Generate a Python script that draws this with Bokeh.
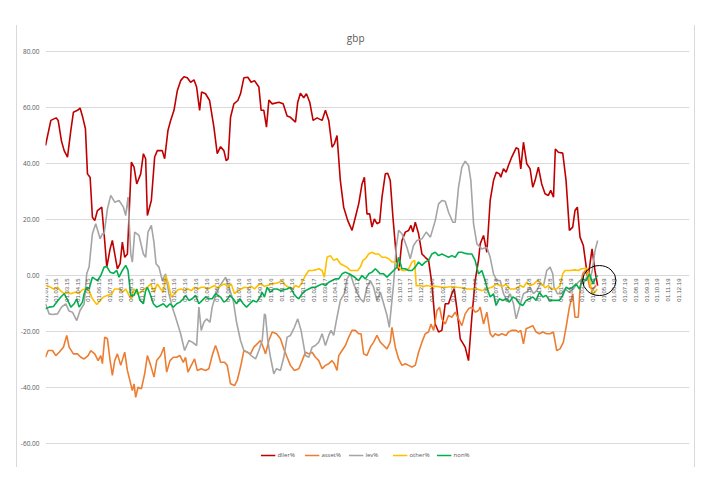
import math
from bokeh.plotting import figure
from bokeh.layouts import column, row
from bokeh.models import Legend, LegendItem, Range1d, NumeralTickFormatter, FixedTicker, Label, Spacer
from bokeh.embed import file_html
from bokeh.resources import INLINE

# x values are months since 01.01.15
tick_months = list(range(60))
tick_labels = ["01.%02d.%02d" % (m % 12 + 1, 15 + m // 12) for m in tick_months]

dller_m = [0, 0.5, 0.99, 1.18, 1.49, 1.74, 2.05, 2.36, 2.6, 2.98, 3.22, 3.47, 3.72, 3.91, 4.16, 4.37, 4.59, 4.84,
           5.24, 5.46, 5.71, 6.02, 6.23, 6.45, 6.7, 6.95, 7.16, 7.38, 7.63, 8.0, 8.25, 8.5, 8.87, 9.12, 9.33, 9.49,
           9.86, 10.17, 10.42, 10.88, 11.1, 11.41, 11.66, 11.97, 12.28, 12.59, 12.9, 13.21, 13.52, 13.83, 14.08,
           14.36, 14.54, 14.91, 15.29, 15.69, 16.0, 16.31, 16.62, 16.84, 17.02, 17.24, 17.55, 17.92, 18.17, 18.48,
           18.85, 19.16, 19.47, 19.88, 20.09, 20.34, 20.59, 20.81, 21.12, 21.74, 22.14, 22.51, 22.82, 23.29, 23.5,
           23.75, 24.06, 24.31, 24.62, 24.93, 25.3, 25.77, 26.08, 26.39, 26.7, 26.91, 27.16, 27.47, 27.78, 28.16,
           28.56, 28.87, 29.18, 29.49, 29.71, 29.95, 30.2, 30.42, 30.64, 30.88, 31.13, 31.35, 31.66, 31.88, 32.12,
           32.37, 32.74, 32.93, 33.21, 33.52, 33.83, 34.05, 34.23, 34.45, 34.76, 35.07, 35.38, 35.69, 36.0, 36.31,
           36.62, 36.93, 37.24, 37.55, 37.86, 38.08, 38.33, 38.64, 39.1, 39.41, 39.72, 40.03, 40.34, 40.5, 40.81,
           41.12, 41.43, 41.74, 42.0, 42.29, 42.42, 42.67, 42.91, 43.13, 43.44, 43.85, 44.06, 44.28, 44.53, 44.84,
           45.15, 45.4, 45.61, 45.92, 46.23, 46.54, 46.85, 47.07, 47.33, 47.5, 47.78, 48.19, 48.5, 48.81, 49.12,
           49.33, 49.55, 49.8, 50.11, 50.42, 50.6, 50.92, 51.19, 51.44]
dller_v = [46.4, 55.4, 56.3, 55.4, 48.0, 44.6, 42.3, 51.8, 58.3, 59.0, 59.8, 56.5, 52.4, 36.3, 35.0, 20.8, 19.6, 23.2,
           24.4, 14.9, 3.0, 9.5, 12.5, 7.7, 2.4, 4.2, 11.9, 6.5, 7.7, 40.5, 38.7, 32.7, 36.3, 43.5, 41.7, 21.4,
           26.8, 42.3, 44.6, 44.6, 41.7, 51.8, 55.4, 59.0, 66.0, 69.6, 71.0, 70.6, 69.0, 69.9, 67.3,
           59.0, 65.5, 64.9, 62.5, 53.0, 43.5, 46.0, 44.6, 41.0, 41.7, 56.5, 61.3, 62.5, 64.9, 70.6,
           70.8, 69.0, 69.6, 67.3, 59.0, 59.0, 53.0, 62.7, 61.3, 61.9, 61.3, 57.0, 56.5, 54.8, 61.9,
           65.1, 63.5, 64.9, 61.9, 55.4, 56.3, 55.4, 59.0, 55.4, 45.8, 47.0, 50.0, 33.9, 24.4, 19.6,
           16.1, 20.8, 25.6, 32.7, 35.1, 22.0, 22.0, 17.3, 20.2, 18.5, 19.0, 28.0, 36.3, 36.5, 33.9,
           20.8, 4.2, 1.8, 12.5, 15.5, 16.1, 17.9, 15.5, 19.0, 14.9, 7.7, 6.5, 5.4, -3.0, -17.3,
           -20.2, -19.6, -10.1, -10.1, -6.5, -4.8, -11.9, -22.6, -25.6, -30.4, -14.9, -1.8, 5.4, 11.3, 14.3,
           8.3, 26.8, 33.9, 36.9, 36.3, 35.1, 38.1, 36.9, 39.3, 42.3, 45.6, 45.2, 38.1, 47.6, 39.9,
           38.1, 31.5, 33.9, 38.7, 32.7, 29.2, 28.6, 30.4, 28.0, 45.2, 44.0, 43.7, 33.9, 16.1, 17.3,
           23.2, 24.4, 13.7, 10.7, 1.8, 0.6, 9.5, 1.8, -3.6]

asset_m = [0, 0.25, 0.65, 0.96, 1.27, 1.67, 1.98, 2.2, 2.6, 2.98, 3.29, 3.6, 3.97, 4.22, 4.59, 4.9, 5.15, 5.3, 5.52,
           5.77, 6.02, 6.23, 6.45, 6.7, 7.01, 7.38, 7.63, 8.09, 8.25, 8.4, 8.62, 8.93, 9.24, 9.49, 9.8, 10.11, 10.36,
           10.73, 11.04, 11.29, 11.6, 11.91, 12.22, 12.53, 12.84, 13.05, 13.27, 13.58, 13.89, 14.14, 14.51, 14.91,
           15.22, 15.53, 15.84, 16.06, 16.31, 16.68, 16.93, 17.24, 17.61, 17.86, 18.17, 18.48, 18.79, 19.1, 19.41,
           19.72, 20.03, 20.34, 20.5, 20.81, 21.12, 21.52, 21.89, 22.2, 22.51, 22.82, 23.19, 23.6, 23.91, 24.22,
           24.53, 24.84, 25.15, 25.46, 25.77, 26.08, 26.39, 26.7, 26.91, 27.16, 27.32, 27.63, 27.94, 28.25, 28.56,
           28.87, 29.18, 29.4, 29.64, 29.95, 30.26, 30.57, 30.88, 31.19, 31.5, 31.81, 32.12, 32.28, 32.59, 32.9,
           33.21, 33.52, 33.83, 34.14, 34.45, 34.76, 35.07, 35.38, 35.69, 35.91, 36.16, 36.47, 36.71, 36.93, 37.24,
           37.55, 37.86, 38.17, 38.48, 38.79, 39.1, 39.41, 39.72, 40.03, 40.34, 40.5, 40.81, 41.12, 41.43, 41.67,
           41.89, 42.2, 42.51, 42.91, 43.13, 43.44, 43.85, 44.06, 44.28, 44.53, 44.78, 45.09, 45.4, 45.71, 46.02,
           46.33, 46.7, 47.01, 47.32, 47.63, 47.94, 48.25, 48.5, 48.81, 49.12, 49.33, 49.64, 49.8, 50.05, 50.3,
           50.5, 50.7, 51.0, 51.3]
asset_v = [-29.2, -26.8, -26.8, -28.6, -27.4, -25.6, -21.4, -25.6, -28.0, -28.0, -29.2, -29.8, -28.6, -26.8, -28.0,
           -30.4, -28.6, -31.5, -22.0, -22.6, -30.4, -35.7, -30.4, -28.0, -32.1, -27.4, -33.9, -41.1, -38.7, -43.5,
           -39.9, -40.5, -35.1, -28.6, -32.1, -36.3, -30.4, -28.6, -25.6, -34.5, -30.4, -29.2, -29.2, -28.6, -31.0,
           -29.2, -34.5, -32.1, -29.8, -33.9, -33.3, -33.9, -33.3, -28.6, -25.0, -27.4, -31.0, -31.0, -32.1, -38.7,
           -39.3, -37.5, -32.7, -26.8, -27.4, -28.0, -25.6, -24.4, -23.2, -26.2, -28.0, -23.2, -20.2, -20.8, -22.6,
           -26.2, -29.2, -32.1, -33.9, -33.3, -30.4, -27.4, -28.0, -27.4, -29.2, -30.4, -33.3, -32.1, -31.5, -30.4,
           -31.5, -33.9, -28.6, -26.8, -25.0, -22.0, -19.6, -19.6, -20.8, -20.8, -28.0, -28.6, -25.6, -23.8, -21.4,
           -23.8, -25.0, -26.2, -23.8, -18.5, -25.6, -29.8, -32.1, -31.5, -32.1, -32.7, -32.1, -27.4, -23.8, -20.8,
           -20.2, -17.3, -19.6, -12.5, -11.3, -15.5, -17.3, -14.3, -14.9, -13.1, -15.5, -17.9, -13.7, -11.9, -11.3,
           -13.1, -12.5, -11.3, -17.3, -13.1, -20.8, -22.0, -20.8, -21.4, -20.8, -21.4, -20.2, -19.6, -19.6, -20.2,
           -19.6, -24.4, -19.0, -18.5, -17.9, -20.2, -20.8, -20.2, -20.8, -20.8, -20.2, -26.8, -26.2, -23.8, -18.5,
           -11.3, -6.5, -14.9, -14.9, -4.8, 0.6, 1.8, -0.6, -4.2, -4.8, -3.6]

lev_m = [0, 0.34, 0.65, 1.12, 1.49, 1.89, 2.2, 2.51, 2.91, 3.22, 3.6, 3.84, 4.06, 4.37, 4.68, 5.09, 5.3, 5.46, 5.77,
         6.08, 6.45, 6.85, 7.26, 7.47, 7.69, 7.94, 8.09, 8.31, 8.71, 9.12, 9.33, 9.55, 9.86, 10.1, 10.3, 10.57,
         10.88, 11.19, 11.5, 11.81, 12.12, 12.59, 12.96, 13.36, 13.67, 14.08, 14.29, 14.51, 14.76, 15.01, 15.32,
         15.53, 15.84, 16.16, 16.47, 16.78, 17.09, 17.49, 17.8, 18.17, 18.48, 18.85, 19.16, 19.57, 19.88, 20.19,
         20.4, 20.5, 20.71, 20.96, 21.27, 21.52, 21.89, 22.2, 22.51, 22.82, 23.19, 23.5, 23.81, 24.22, 24.53,
         24.84, 25.15, 25.46, 25.77, 26.08, 26.39, 26.6, 26.85, 27.16, 27.47, 27.84, 28.09, 28.4, 28.71, 29.02,
         29.33, 29.64, 29.95, 30.26, 30.57, 30.88, 31.2, 31.5, 31.8, 32.03, 32.43, 32.68, 32.9, 33.21, 33.67,
         33.98, 34.29, 34.6, 35.07, 35.47, 35.86, 36.31, 36.62, 36.93, 37.24, 37.55, 37.95, 38.17, 38.48, 38.79,
         39.1, 39.41, 39.63, 39.88, 40.19, 40.65, 41.12, 41.43, 41.74, 42.05, 42.36, 42.67, 42.98, 43.29, 43.6,
         43.85, 44.16, 44.53, 44.84, 45.15, 45.46, 45.77, 46.08, 46.4, 46.7, 47.01, 47.26, 47.38, 47.69, 48.09,
         48.4, 48.81, 49.18, 49.49, 49.8, 50.11, 50.42, 50.7, 50.95, 51.2, 51.44]
lev_v = [-10.1, -13.7, -13.9, -13.7, -11.3, -10.1, -12.7, -13.1, -16.1, -12.5, -10.1, 0.6, 3.0, 14.9, 18.5, 13.1, 14.9,
         14.9, 23.8, 28.6, 26.2, 26.8, 24.4, 21.4, 28.0, 7.7, 4.8, 15.5, 14.3, 7.7, 6.5, 15.5, 17.9, 12.0, 4.2, 3.0,
         -1.8, 0.6, -6.5, -11.3, -14.9, -20.8, -26.8, -23.2, -23.8, -25.0, -11.3, -19.6, -16.7, -15.5, -16.7,
         -11.3, -7.1, -4.2, -2.4, -0.6, -4.2, -8.9, -16.7, -23.2, -26.8, -27.4, -28.6, -29.8, -26.8, -23.2,
         -13.7, -14.3, -23.2, -29.2, -35.1, -33.3, -33.9, -29.2, -22.0, -21.4, -18.5, -15.5, -19.6, -28.6, -29.2,
         -25.6, -25.0, -23.8, -20.8, -25.0, -21.4, -19.6, -21.4, -14.9, -8.9, -6.5, -1.2, 0.6, -3.0, -6.0,
         -8.3, -9.5, -4.2, -1.8, -4.2, -8.9, -6.0, -10.0, -14.0, -18.5, -3.0, 10.0, 16.1, 14.9, 10.1,
         6.0, 10.7, 12.5, 13.1, 15.5, 13.7, 19.6, 25.6, 26.8, 26.5, 22.6, 19.0, 19.0, 31.5, 38.7,
         40.8, 39.3, 33.9, 18.5, 11.3, 9.5, 10.1, 6.5, 0.6, -1.8, -1.8, -6.5, -8.9, -6.5, -10.1,
         -15.5, -11.3, -6.5, -5.9, -4.2, -6.5, -5.4, -3.0, -3.6, 1.8, 3.0, 0.6, -4.2, -6.5, -6.5,
         -4.8, -6.0, -4.8, -3.0, -1.8, -3.0, -0.6, -2.0, 2.0, 8.9, 12.5]

other_m = [0, 0.34, 0.74, 1.12, 1.43, 1.74, 2.05, 2.36, 2.73, 3.13, 3.44, 3.75, 4.06, 4.37, 4.78, 5.09, 5.4, 5.77,
           6.14, 6.45, 6.85, 7.16, 7.47, 7.78, 8.0, 8.25, 8.56, 8.87, 9.18, 9.49, 9.8, 10.11, 10.42, 10.73, 10.98,
           11.19, 11.41, 11.72, 12.03, 12.34, 12.65, 12.96, 13.27, 13.58, 13.89, 14.2, 14.51, 14.82, 15.13, 15.44,
           15.75, 16.06, 16.37, 16.68, 16.99, 17.3, 17.61, 17.92, 18.23, 18.54, 18.85, 19.16, 19.47, 19.78, 20.09,
           20.4, 20.65, 21.12, 21.58, 22.05, 22.37, 22.67, 22.98, 23.29, 23.6, 23.91, 24.22, 24.53, 24.84, 25.15,
           25.46, 25.77, 25.98, 26.23, 26.54, 26.85, 27.16, 27.47, 27.78, 28.09, 28.4, 28.78, 29.08, 29.33, 29.58,
           29.8, 30.11, 30.42, 30.73, 31.04, 31.35, 31.66, 31.98, 32.28, 32.59, 32.9, 33.21, 33.52, 33.83, 34.14,
           34.39, 34.54, 34.91, 35.22, 35.53, 36.0, 36.47, 36.93, 37.4, 37.86, 38.33, 38.79, 39.26, 39.72, 40.19,
           40.65, 41.05, 41.58, 42.05, 42.51, 42.91, 43.29, 43.75, 44.22, 44.53, 44.84, 45.15, 45.52, 45.83, 46.23,
           46.54, 46.85, 47.16, 47.63, 47.94, 48.19, 48.4, 48.87, 49.33, 49.64, 49.95, 50.42, 50.55, 50.75, 50.95,
           51.19, 51.4]
other_v = [-3.6, -3.9, -4.8, -4.2, -5.6, -6.5, -6.0, -6.5, -6.0, -6.3, -5.1, -4.8, -5.4, -8.3, -10.4, -8.9, -7.7, -7.1,
           -6.8, -4.8, -4.8, -6.0, -4.8, -7.1, -8.3, -4.8, -6.5, -6.0, -4.8, -4.2, -3.0, -6.0, -3.0, -4.8, -6.0,
           0.0, -2.4, -7.7, -6.5, -5.1, -4.8, -5.4, -4.8, -5.4, -4.2, -4.8, -4.2, -4.2, -4.8, -4.2,
           -3.6, -4.4, -3.6, -3.0, -4.2, -3.0, -6.5, -5.4, -4.8, -4.2, -4.4, -3.9, -4.8, -3.6, -3.0,
           -3.9, -3.6, -3.0, -2.7, -2.0, -3.6, -4.2, -4.8, -3.6, -4.2, -2.4, 0.0, 1.8, 1.8, 2.0,
           2.4, 1.8, -0.6, 6.5, 7.1, 5.4, 6.0, 4.2, 3.6, 3.0, 1.8, 1.8, 1.8, 3.0, 5.4,
           6.0, 7.7, 8.3, 7.7, 7.7, 6.5, 6.5, 6.0, 4.8, 4.8, 3.0, 1.8, 1.8, 2.4, 4.8,
           5.4, -3.6, -3.6, -3.9, -3.6, -3.9, -3.9, -4.2, -4.2, -3.9, -4.2, -4.4, -4.8, -4.8, -4.8,
           -5.4, -4.8, -4.2, -3.0, -3.9, -3.2, -4.8, -4.8, -3.6, -4.2, -2.4, -3.6, -3.0, -1.8, -3.0,
           -4.4, -3.6, -4.8, -4.8, -3.6, 0.6, 1.8, 1.8, 2.0, 1.8, 2.4, 2.6, 1.2, -3.0, -6.5,
           -6.0, -4.8]

non_m = [0, 0.34, 0.74, 1.05, 1.43, 1.74, 2.05, 2.36, 2.67, 2.91, 3.13, 3.44, 3.6, 3.84, 4.06, 4.37, 4.59, 4.84, 5.15,
         5.46, 5.71, 6.02, 6.33, 6.64, 6.85, 7.16, 7.47, 7.69, 7.94, 8.25, 8.5, 8.81, 9.12, 9.33, 9.49, 9.74, 10.05,
         10.36, 10.67, 10.98, 11.29, 11.6, 11.91, 12.22, 12.53, 12.84, 13.05, 13.36, 13.67, 13.98, 14.29, 14.6,
         14.91, 15.22, 15.53, 15.84, 16.06, 16.31, 16.62, 16.87, 17.18, 17.49, 17.8, 18.11, 18.42, 18.73, 19.04,
         19.35, 19.67, 19.98, 20.19, 20.4, 20.65, 20.96, 21.27, 21.58, 21.89, 22.2, 22.51, 22.82, 23.13, 23.38,
         23.6, 23.91, 24.22, 24.53, 24.84, 25.15, 25.46, 25.77, 26.08, 26.39, 26.7, 27.01, 27.32, 27.63, 27.94,
         28.25, 28.56, 28.87, 29.18, 29.49, 29.8, 30.11, 30.42, 30.73, 31.19, 31.5, 31.81, 32.12, 32.43, 32.74,
         32.9, 33.21, 33.52, 33.83, 34.14, 34.45, 34.76, 35.07, 35.38, 35.69, 36.0, 36.31, 36.62, 36.93, 37.24,
         37.55, 37.86, 38.17, 38.48, 38.79, 39.1, 39.41, 39.72, 40.03, 40.34, 40.65, 40.96, 41.12, 41.43, 41.74,
         41.98, 42.29, 42.6, 42.91, 43.22, 43.53, 43.85, 44.16, 44.47, 44.78, 45.09, 45.4, 45.71, 46.02, 46.33,
         46.64, 46.95, 47.26, 47.57, 47.88, 48.19, 48.5, 48.81, 49.12, 49.43, 49.74, 50.06, 50.37, 50.68, 51.0,
         51.2, 51.44]
non_v = [-11.9, -11.3, -11.1, -9.5, -7.7, -6.5, -8.7, -11.3, -10.1, -8.3, -11.3, -9.5, -6.5, -4.2, -4.8, -0.6, -1.2,
         -1.8, 0.0, 3.0, 3.2, 1.2, 0.8, 1.8, -0.6, 1.8, 3.6, 1.8, -7.1, -7.1, -4.8, -8.9, -10.1, -5.4, -4.2, -6.5,
         -10.1, -11.3, -10.7, -10.1, -11.3, -10.1, -11.3, -10.1, -9.5, -8.3, -7.1, -8.9, -8.3, -7.1, -10.1, -8.9,
         -7.7, -8.3, -8.3, -6.5, -7.1, -7.7, -9.5, -8.9, -7.1, -8.3, -10.1, -8.3, -10.1, -11.3, -10.1,
         -8.9, -9.5, -7.7, -6.0, -7.7, -4.2, -6.0, -4.8, -4.8, -5.4, -5.1, -4.8, -4.2, -6.5, -7.7,
         -8.3, -6.5, -5.4, -4.8, -4.2, -4.2, -3.6, -3.0, -3.6, -2.4, -1.8, -1.2, -1.2, 0.6, 1.2,
         0.6, 0.0, -0.8, -1.8, 0.0, -1.2, 0.6, 1.2, 2.4, 0.6, 0.6, -0.6, 0.6, 1.8, 3.0,
         6.5, 2.4, 2.4, 1.8, 1.8, 3.0, 4.8, 3.6, 4.8, 5.4, 7.7, 8.3, 7.1, 7.7, 7.1,
         6.5, 7.1, 6.5, 8.3, 8.3, 7.9, 7.7, 7.7, 5.4, 0.6, 1.8, -1.8, -4.2, -7.7, -6.5,
         -10.7, -8.3, -8.9, -8.3, -9.5, -7.7, -8.3, -10.1, -10.7, -8.9, -8.3, -7.7, -8.9, -6.0, -7.7,
         -7.1, -8.9, -8.9, -8.9, -8.9, -7.1, -4.2, -4.8, -4.2, -3.0, -4.8, -1.2, -1.8, 0.6, -3.0,
         -1.2, 0.0]

series = [
    ("dller%", dller_m, dller_v, "#C00000"),
    ("asset%", asset_m, asset_v, "#ED7D31"),
    ("lev%", lev_m, lev_v, "#A5A5A5"),
    ("other%", other_m, other_v, "#FFC000"),
    ("non%", non_m, non_v, "#00B050"),
]

# hand-drawn ring annotation (months, value, width in months, height in value units)
ring_x, ring_y, ring_w, ring_h = 51.6, -1.8, 3.1, 10.7
# chart title placement (months, value)
title_text, title_x, title_y = "gbp", 28.9, 85.0

p = figure(width=679, height=442, output_backend="svg", toolbar_location=None, title=None,
           x_range=Range1d(0, 60), y_range=Range1d(-66.43, 89.29), x_axis_location=None,
           min_border_left=27, min_border_right=7, min_border_top=0, min_border_bottom=6)
p.styles = {"border-left": "1px solid #D9D9D9", "border-right": "1px solid #D9D9D9"}

p.outline_line_color = None
p.background_fill_color = "white"
p.border_fill_color = "white"
p.xgrid.visible = False
p.ygrid.grid_line_color = "#D9D9D9"
p.ygrid.grid_line_width = 1
p.yaxis.ticker = FixedTicker(ticks=[-60, -40, -20, 0, 20, 40, 60, 80])
p.yaxis.formatter = NumeralTickFormatter(format="0.00")
p.yaxis.axis_line_color = None
p.yaxis.major_tick_line_color = None
p.yaxis.minor_tick_line_color = None
p.yaxis.major_tick_out = 0
p.yaxis.major_tick_in = 0
p.yaxis.minor_tick_out = 0
p.yaxis.minor_tick_in = 0
p.yaxis.major_label_text_font_size = "6.5px"
p.yaxis.major_label_text_color = "#595959"
p.yaxis.major_label_text_font = "Open Sans"
p.yaxis.major_label_standoff = 6

items = []
for name, xs, ys, color in series:
    r = p.line(xs, ys, line_color=color, line_width=1.6)
    items.append(LegendItem(label=name, renderers=[r]))

p.text(x=tick_months, y=[0] * len(tick_months), text=tick_labels, angle=math.pi / 2,
       text_align="right", text_baseline="middle", text_font_size="6px",
       text_color="#595959", y_offset=3)

p.ellipse(x=[ring_x], y=[ring_y], width=ring_w, height=ring_h, fill_color=None,
          line_color="black", line_width=1)

p.add_layout(Label(x=title_x, y=title_y, text=title_text, text_align="center", text_baseline="middle",
                   text_font="Open Sans", text_font_size="10px", text_color="#595959"))

legend = Legend(items=items, orientation="horizontal", location="bottom_center",
                label_text_font_size="6px", label_text_color="#595959", label_text_font="Open Sans",
                glyph_width=15, glyph_height=8, label_height=8, label_standoff=2, spacing=7,
                padding=0, margin=2, border_line_color=None, background_fill_alpha=0)
p.add_layout(legend)

layout = column(Spacer(height=25), row(Spacer(width=16), p))
open("out.html", "w").write(file_html(layout, INLINE))
